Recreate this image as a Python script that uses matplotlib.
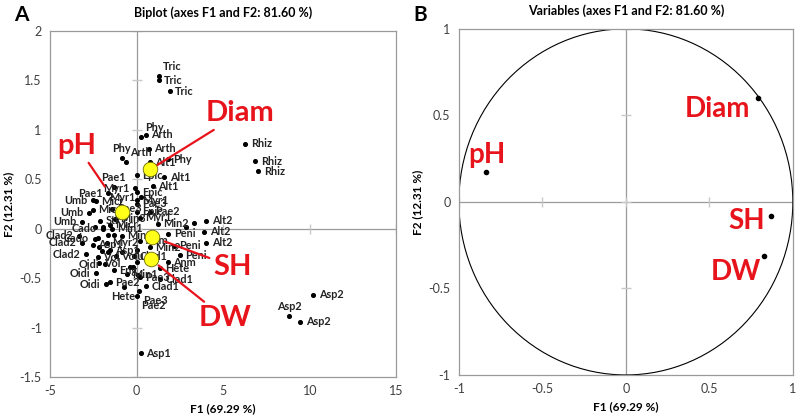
import matplotlib.pyplot as plt
import numpy as np
from matplotlib.patches import Circle
from matplotlib.ticker import FuncFormatter

plt.rcParams['font.family'] = ['Lato', 'DejaVu Sans']

obs_names = ['Tric', 'Tric', 'Tric', 'Phy', 'Arth', 'Phy', 'Arth', 'Arth', 'Phy', 'Alt1',
             'Epic', 'Alt1', 'Alt1', 'Pae1', 'Pae1', 'Myr1', 'Epic', 'Myr1', 'Myr1', 'Pae3',
             'Umb', 'Micr', 'Umb', 'Micr', 'Pae3', 'Umb', 'Stk', 'Min3', 'Micr', 'Epic',
             'Pae2', 'Myr1', 'Min2', '', '', 'Alt2', 'Alt2', 'Alt2', 'Rhiz', 'Rhiz',
             'Rhiz', 'Clad2', 'Cado', 'Clad2', 'Cado', 'Asp1', 'Myr2', 'Clad2', 'Asp1', 'Vol',
             'Volu', 'Vol', 'Oidi', 'Oidi', 'Oidi', 'Eng', 'Min1', 'Pae2', 'Hete', 'Pae2',
             'Clad1', 'Pae3', 'Min2', 'Anm', 'Hete', 'Peni', 'Peni', 'Peni', 'Anm', 'Min2',
             'Min1', 'Clad1', 'Pae3', 'Clad1', 'Asp2', 'Asp2', 'Asp2', 'Asp1',
             '', '', '', '', '', '', '', '', '', '', '', '', '', '']
obs_f1 = [1.27, 1.27, 1.90, 0.23, 0.52, -0.86, -0.63, 0.69, 1.79, 0.75,
          0.00, 0.92, 1.61, -1.33, -1.67, -0.12, 0.00, 0.23, 0.00, 0.00,
          -2.54, -2.36, -2.77, -2.54, -1.44, -3.17, -2.13, -1.27, -1.56, 0.00,
          0.75, 0.17, 1.21, 2.88, 3.29, 4.03, 3.92, 4.03, 6.28, 6.86,
          7.03, -3.34, -1.96, -3.17, -2.42, -2.54, -1.73, -2.94, -1.56, -2.25,
          -1.21, -2.19, -1.84, -2.36, -1.79, -1.33, -0.58, -1.56, -0.75, 0.00,
          0.52, 0.12, 0.75, 1.79, 1.33, 2.48, 2.13, 1.84, 0.17, -0.86,
          -1.44, -0.17, 0.17, 1.33, 10.20, 8.82, 9.45, 0.23,
          -2.42, -1.96, -1.67, -1.33, -2.25, -2.19, -2.02, -1.67, -0.86, 0.00, -0.40, 0.00, 0.06, -0.23]
obs_f2 = [1.54, 1.50, 1.39, 0.93, 0.95, 0.71, 0.67, 0.81, 0.70, 0.67,
          0.54, 0.43, 0.52, 0.42, 0.36, 0.41, 0.37, 0.32, 0.29, 0.25,
          0.29, 0.28, 0.16, 0.19, 0.20, 0.07, 0.08, 0.10, 0.04, 0.17,
          0.17, 0.11, 0.05, 0.02, 0.06, 0.08, -0.03, -0.14, 0.86, 0.68,
          0.58, -0.07, 0.00, -0.14, -0.10, -0.16, -0.14, -0.26, -0.22, -0.29,
          -0.28, -0.35, -0.36, -0.45, -0.56, -0.42, -0.46, -0.54, -0.59, -0.68,
          -0.58, -0.63, -0.19, -0.34, -0.40, -0.27, -0.17, -0.05, -0.12, -0.07,
          0.00, -0.28, -0.49, -0.51, -0.67, -0.88, -0.94, -1.26,
          0.02, 0.02, -0.06, -0.06, -0.09, -0.18, -0.23, -0.24, -0.24, -0.22, -0.39, -0.34, -0.47, -0.39]
obs_side = ['ar', 'r', 'r', 'ar', 'r', 'a', 'ar', 'r', 'r', 'r',
            'r', 'r', 'r', 'a', 'l', 'l', 'r', 'l', 'r', 'r',
            'l', 'r', 'l', 'r', 'r', 'l', 'r', 'r', 'r', 'r',
            'r', 'r', 'r', 'r', 'r', 'r', 'r', 'r', 'r', 'r',
            'r', 'l', 'l', 'l', 'l', 'r', 'r', 'l', 'r', 'r',
            'r', 'r', 'l', 'l', 'l', 'r', 'r', 'r', 'b', 'br',
            'r', 'br', 'r', 'r', 'r', 'r', 'r', 'r', 'r', 'r',
            'r', 'r', 'r', 'r', 'r', 'a', 'r', 'r'] + ['r'] * 14

# variables (loadings)
var_names = ['pH', 'Diam', 'SH', 'DW']
var_f1 = [-0.84, 0.79, 0.87, 0.83]
var_f2 = [0.17, 0.60, -0.08, -0.31]

sides = {'r': ((4, 0), 'left', 'center'), 'l': ((-4, 0), 'right', 'center'),
         'a': ((0, 3), 'center', 'bottom'), 'b': ((0, -3), 'center', 'top'),
         'ar': ((3, 3), 'left', 'bottom'), 'br': ((3, -3), 'left', 'top')}

grey = '#9a9a9a'
fmt = FuncFormatter(lambda v, p: '%g' % v)

fig = plt.figure(figsize=(7.98, 4.18), dpi=100)
ax1 = fig.add_axes([0.0627, 0.098, 0.434, 0.828])
ax2 = fig.add_axes([0.575, 0.103, 0.4185, 0.828])


def style_axes(ax, xt, yt):
    for s in ax.spines.values():
        s.set_color(grey)
        s.set_linewidth(0.9)
    ax.axhline(0, color=grey, lw=0.9, zorder=1)
    ax.axvline(0, color=grey, lw=0.9, zorder=1)
    ax.set_xticks(xt)
    ax.set_yticks(yt)
    ax.xaxis.set_major_formatter(fmt)
    ax.yaxis.set_major_formatter(fmt)
    ax.tick_params(length=0, labelsize=9, colors='#404040', pad=6)
    # small crosses on the zero axes
    ax.plot(np.zeros(len(yt)), yt, ls='', marker='_', ms=7, color='#c8c8c8', zorder=1)
    ax.plot(xt, np.zeros(len(xt)), ls='', marker='|', ms=7, color='#c8c8c8', zorder=1)
    ax.set_xlabel('F1 (69.29 %)', fontsize=8.5, fontweight='bold', labelpad=4)
    ax.set_ylabel('F2 (12.31 %)', fontsize=8.5, fontweight='bold', labelpad=4)


# panel A: biplot
ax1.set_xlim(-5, 15)
ax1.set_ylim(-1.5, 2)
style_axes(ax1, np.arange(-5, 16, 5), np.arange(-1.5, 2.01, 0.5))
ax1.scatter(obs_f1, obs_f2, s=7, color='black', zorder=3)
for n, x, y, sd in zip(obs_names, obs_f1, obs_f2, obs_side):
    if n:
        off, ha, va = sides[sd]
        ax1.annotate(n, (x, y), xytext=off, textcoords='offset points', ha=ha, va=va,
                     fontsize=7.8, fontweight='bold', color='#222222', zorder=4)

var_off = [(-45, 66), (90, 56), (81, -30), (74, -59)]
var_shrink = [22, 4, 10, 7]
for n, x, y, off, sb in zip(var_names, var_f1, var_f2, var_off, var_shrink):
    ax1.annotate(n, (x, y), xytext=off, textcoords='offset pixels', ha='center', va='center',
                 fontsize=21, fontweight='bold', color='#e8141b', zorder=5,
                 arrowprops=dict(arrowstyle='-', color='#e8141b', lw=1.6, shrinkA=1, shrinkB=sb))
ax1.scatter(var_f1, var_f2, s=110, color='#ffff1a', edgecolor='#6b6b00', linewidth=0.6, zorder=6)
ax1.set_title('Biplot (axes F1 and F2: 81.60 %)', fontsize=9, fontweight='bold', pad=10)

# panel B: correlation circle
ax2.set_xlim(-1, 1)
ax2.set_ylim(-1, 1)
style_axes(ax2, np.arange(-1, 1.01, 0.5), np.arange(-1, 1.01, 0.5))
ax2.add_patch(Circle((0, 0), 1, fill=False, color='black', lw=0.8, zorder=2))
ax2.scatter(var_f1, var_f2, s=9, color='black', zorder=3)
lab_off = [(1, 4), (-8, -11), (-6, -5), (-3, -16)]
lab_ha = ['center', 'right', 'right', 'right']
lab_va = ['bottom', 'center', 'center', 'center']
for n, x, y, off, ha, va in zip(var_names, var_f1, var_f2, lab_off, lab_ha, lab_va):
    ax2.annotate(n, (x, y), xytext=off, textcoords='offset pixels', ha=ha, va=va,
                 fontsize=20, fontweight='bold', color='#e8141b')
ax2.set_title('Variables (axes F1 and F2: 81.60 %)', fontsize=9, fontweight='bold', pad=10)

fig.text(0.018, 0.965, 'A', fontsize=15, fontweight='bold', va='center')
fig.text(0.518, 0.965, 'B', fontsize=15, fontweight='bold', va='center')

fig.savefig('out.png', dpi=100)
